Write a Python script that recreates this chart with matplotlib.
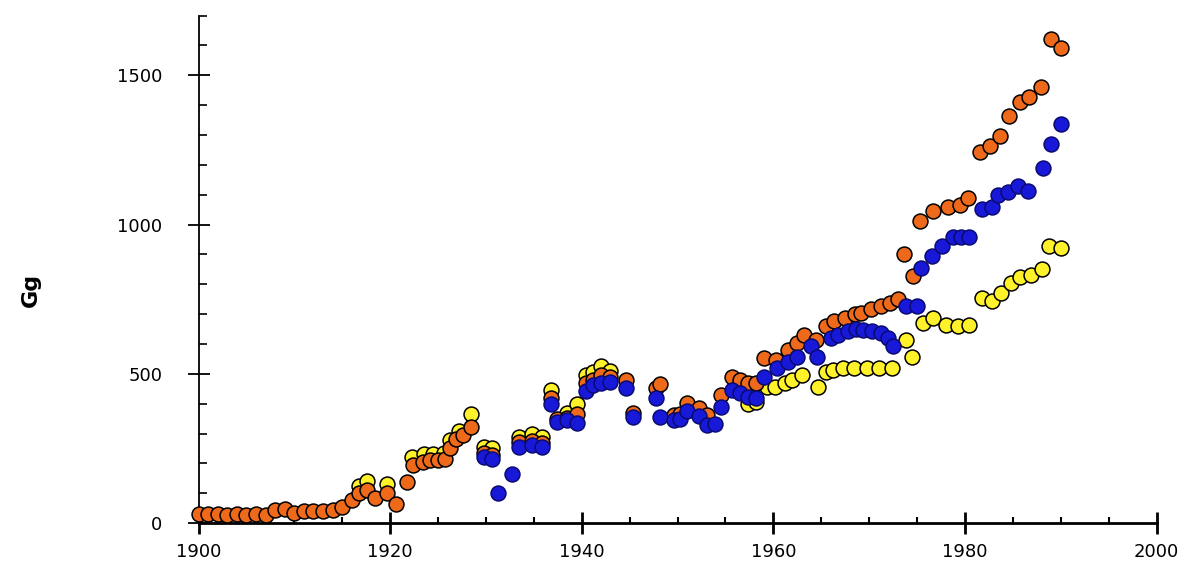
import matplotlib.pyplot as plt
from matplotlib.ticker import MultipleLocator

# orange series (year, Gg)
orange_years = [1900, 1901, 1902, 1903, 1904, 1905, 1906, 1907, 1908, 1909, 1910, 1911,
                1912, 1913, 1914, 1915, 1916, 1916.8, 1917.6, 1918.4, 1919.7, 1920.6,
                1921.8, 1922.4, 1923.4, 1924.2, 1925, 1925.7, 1926.2, 1926.9, 1927.6,
                1928.4, 1929.8, 1930.6, 1933.4, 1934.8, 1935.9, 1936.8, 1937.4, 1938.5,
                1939.5, 1940.4, 1941.2, 1942, 1943, 1944.6, 1945.4, 1947.7, 1948.2,
                1949.6, 1950.3, 1951, 1952.2, 1953.1, 1954.5, 1955.7, 1956.5, 1957.4,
                1958.2, 1959, 1960.3, 1961.5, 1962.5, 1963.2, 1964.5, 1965.5, 1966.3,
                1967.5, 1968.5, 1969.2, 1970.2, 1971.2, 1972.2, 1973, 1973.6, 1974.6,
                1975.3, 1976.7, 1978.2, 1979.5, 1980.3, 1981.6, 1982.6, 1983.7, 1984.6,
                1985.7, 1986.7, 1987.9, 1989, 1990]
orange_vals = [30, 30, 32, 28, 32, 28, 30, 28, 45, 48, 35, 40,
               40, 42, 45, 55, 78, 100, 111, 83, 100, 63,
               139, 194, 205, 211, 212, 216, 250, 283, 294,
               322, 235, 228, 270, 276, 268, 419, 350, 352,
               364, 469, 480, 497, 488, 480, 368, 453, 465,
               362, 365, 403, 385, 363, 430, 490, 480, 470,
               468, 553, 547, 581, 604, 631, 615, 660, 676,
               688, 700, 704, 717, 726, 738, 750, 900, 827,
               1011, 1045, 1060, 1067, 1088, 1242, 1263, 1297, 1364,
               1410, 1428, 1460, 1620, 1592]

# blue series
blue_years = [1929.8, 1930.6, 1931.3, 1932.7, 1933.4, 1934.8, 1935.9, 1936.8, 1937.4,
              1938.5, 1939.5, 1940.4, 1941.2, 1942, 1943, 1944.6, 1945.4, 1947.7,
              1948.2, 1949.6, 1950.3, 1951, 1952.2, 1953.1, 1953.9, 1954.5, 1955.7,
              1956.5, 1957.4, 1958.2, 1959, 1960.4, 1961.5, 1962.5, 1963.9, 1964.6,
              1966, 1966.8, 1967.8, 1968.6, 1969.4, 1970.3, 1971.2, 1972, 1972.5,
              1973.8, 1975, 1975.4, 1976.6, 1977.6, 1978.8, 1979.6, 1980.4, 1981.8,
              1982.8, 1983.5, 1984.5, 1985.5, 1986.6, 1988.2, 1989, 1990]
blue_vals = [220, 215, 100, 165, 256, 262, 256, 400, 340,
             345, 336, 441, 462, 469, 474, 452, 357, 419,
             355, 346, 350, 374, 360, 329, 332, 390, 446,
             435, 424, 420, 491, 520, 540, 558, 592, 558,
             621, 630, 642, 650, 648, 645, 637, 620, 592,
             726, 726, 856, 894, 927, 960, 960, 960, 1052,
             1060, 1100, 1110, 1129, 1112, 1188, 1270, 1337]

# yellow series
yellow_years = [1916.8, 1917.6, 1919.7, 1922.3, 1923.5, 1924.5, 1925.6, 1926.3, 1927.2,
                1928.4, 1929.8, 1930.6, 1933.4, 1934.8, 1935.9, 1936.8, 1938.5, 1939.5,
                1940.4, 1941.2, 1942, 1943, 1957.4, 1958.2, 1959.3, 1960.2, 1961.2,
                1962, 1963, 1964.7, 1965.5, 1966.2, 1967.3, 1968.4, 1969.8, 1971,
                1972.4, 1973.8, 1974.5, 1975.6, 1976.7, 1978, 1979.3, 1980.4, 1981.8,
                1982.8, 1983.8, 1984.8, 1985.8, 1986.9, 1988, 1988.8, 1990]
yellow_vals = [125, 140, 130, 222, 232, 230, 235, 278, 310,
               365, 256, 250, 290, 298, 290, 446, 370, 400,
               497, 505, 525, 510, 400, 406, 457, 457, 470,
               480, 497, 457, 505, 513, 520, 520, 520, 520,
               520, 614, 558, 670, 688, 664, 659, 664, 753,
               745, 772, 803, 823, 831, 850, 929, 921]

fig = plt.figure(figsize=(11.96, 5.78), dpi=100)
ax = fig.add_axes([0.166, 0.095, 0.801, 0.878])

ms = 115
ax.scatter(yellow_years, yellow_vals, s=ms, color='#FFF22A', edgecolors='black',
           linewidths=1.1, zorder=3, clip_on=False)
ax.scatter(orange_years, orange_vals, s=ms, color='#EE6A1A', edgecolors='black',
           linewidths=1.1, zorder=4, clip_on=False)
ax.scatter(blue_years, blue_vals, s=ms, color='#1818D8', edgecolors='#0A0A70',
           linewidths=1.1, zorder=5, clip_on=False)

ax.set_xlim(1900, 2000)
ax.set_ylim(0, 1700)
ax.spines['top'].set_visible(False)
ax.spines['right'].set_visible(False)
ax.spines['left'].set_linewidth(1.3)
ax.spines['bottom'].set_linewidth(2)

ax.xaxis.set_major_locator(MultipleLocator(20))
ax.xaxis.set_minor_locator(MultipleLocator(5))
ax.yaxis.set_major_locator(MultipleLocator(500))
ax.yaxis.set_minor_locator(MultipleLocator(100))

ax.tick_params(axis='x', which='major', direction='inout', length=16, width=2,
               labelsize=13, pad=6)
ax.tick_params(axis='x', which='minor', direction='in', length=4, width=1.5)
ax.tick_params(axis='y', which='major', direction='inout', length=16, width=1.3,
               labelsize=13, pad=18)
ax.tick_params(axis='y', which='minor', direction='in', length=6, width=1.2)

ax.set_ylabel('Gg', fontsize=16, fontweight='bold')
ax.yaxis.set_label_coords(-0.165, 0.46)

plt.savefig('out.png', dpi=100)
